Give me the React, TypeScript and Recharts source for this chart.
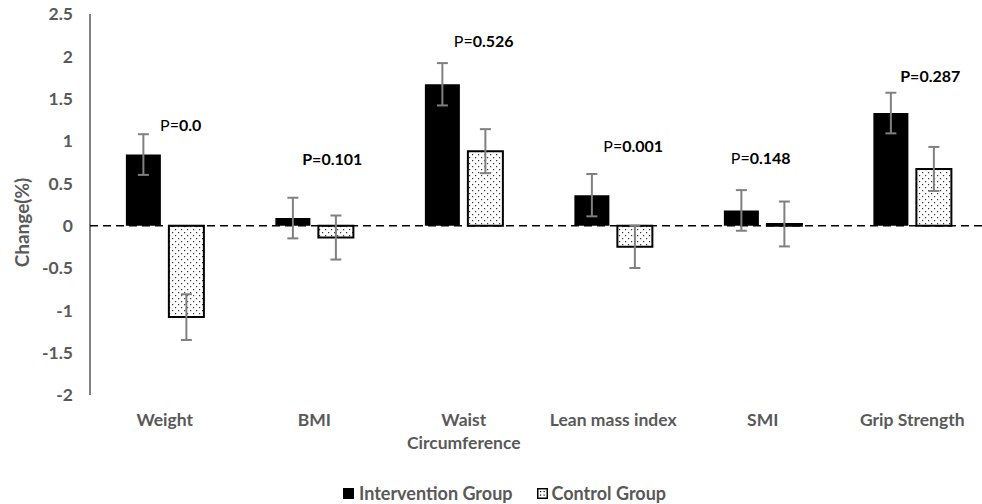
import React from 'react';
import { ComposedChart, Bar, ErrorBar, Scatter, XAxis, YAxis, ReferenceLine, Legend, Label, Text } from 'recharts';

const categories = ['Weight', 'BMI', 'Waist Circumference', 'Lean mass index', 'SMI', 'Grip Strength'];
const intervention = [0.84, 0.09, 1.67, 0.36, 0.18, 1.33];
const interventionErr = [0.24, 0.24, 0.25, 0.25, 0.24, 0.24];
const control = [-1.08, -0.14, 0.88, -0.25, 0.02, 0.67];
const controlErr = [0.27, 0.26, 0.26, 0.25, 0.265, 0.26];
const pValues = ['0.0', '0.101', '0.526', '0.001', '0.148', '0.287'];
const pLabelY = [1.2, 0.8, 2.19, 0.95, 0.81, 1.78];
const pPrefixBold = [false, true, false, false, false, true];
const yTicks = [-2, -1.5, -1, -0.5, 0, 0.5, 1, 1.5, 2, 2.5];

const data = categories.map((name, i) => ({
    name,
    intervention: intervention[i],
    iErr: interventionErr[i],
    control: control[i],
    cErr: controlErr[i],
    pY: pLabelY[i],
    p: pValues[i],
    pBold: pPrefixBold[i],
}));

const FONT = 'Lato, "Open Sans", sans-serif';
const GREY = '#595959';
// horizontal nudge of the p labels from the category centre
const pShift = [16, 18, 20, 20, -2, 18];

const CategoryTick = (props: any) => {
    const { x, y, payload } = props;
    return (
        <Text
            x={x}
            y={y + 19}
            width={140}
            textAnchor="middle"
            verticalAnchor="start"
            lineHeight={23}
            fill={GREY}
            style={{ fontFamily: FONT, fontSize: 17.5, fontWeight: 700 }}
        >
            {payload.value}
        </Text>
    );
};

const PLabel = (props: any) => {
    const { cx, cy, payload, index } = props;
    if (cx == null || cy == null) return null;
    return (
        <text
            x={cx + pShift[index]}
            y={cy}
            textAnchor="middle"
            dominantBaseline="central"
            fill="#000"
            style={{ fontFamily: FONT, fontSize: 16 }}
        >
            <tspan fontWeight={payload.pBold ? 700 : 400}>P=</tspan>
            <tspan fontWeight={700}>{payload.p}</tspan>
        </text>
    );
};

const YTitle = (props: any) => {
    const { viewBox } = props;
    const cx = viewBox.x + 21;
    const cy = viewBox.y + viewBox.height / 2 + 18;
    return (
        <text
            x={cx}
            y={cy}
            transform={`rotate(-90 ${cx} ${cy})`}
            textAnchor="middle"
            dominantBaseline="central"
            fill={GREY}
            style={{ fontFamily: FONT, fontSize: 19, fontWeight: 700 }}
        >
            Change(%)
        </text>
    );
};

const LegendContent = () => (
    <div
        style={{
            display: 'flex',
            justifyContent: 'center',
            alignItems: 'center',
            height: 20,
            paddingLeft: 22,
            fontFamily: FONT,
            fontSize: 18,
            fontWeight: 700,
            color: GREY,
        }}
    >
        <svg width={11} height={11} style={{ marginRight: 5 }}>
            <rect x={0} y={0} width={11} height={11} fill="#000" />
        </svg>
        <span style={{ marginRight: 24 }}>Intervention Group</span>
        <svg width={11} height={11} style={{ marginRight: 4 }}>
            <rect x={0.75} y={0.75} width={9.5} height={9.5} fill="#fff" stroke="#000" strokeWidth={1.5} />
            <rect x={3} y={3} width={1.2} height={1.2} fill="#000" />
            <rect x={6.5} y={6.5} width={1.2} height={1.2} fill="#000" />
            <rect x={6.5} y={3} width={1.2} height={1.2} fill="#000" />
            <rect x={3} y={6.5} width={1.2} height={1.2} fill="#000" />
        </svg>
        <span>Control Group</span>
    </div>
);

export default function App() {
    return (
        <div style={{ width: 982, height: 504, overflow: 'hidden', background: '#fff' }}>
            <style>{'body{margin:0}'}</style>
            <ComposedChart
                width={990}
                height={504}
                data={data}
                margin={{ top: 14, right: 3, left: 0, bottom: 1 }}
                barCategoryGap="24%"
                barGap={8}
            >
                <defs>
                    <pattern id="dots" width={6} height={6} patternUnits="userSpaceOnUse">
                        <rect width={6} height={6} fill="#fff" />
                        <rect x={1} y={1} width={1.2} height={1.2} fill="#333" />
                        <rect x={4} y={4} width={1.2} height={1.2} fill="#333" />
                    </pattern>
                </defs>
                <XAxis
                    dataKey="name"
                    axisLine={false}
                    tickLine={false}
                    tickSize={0}
                    tickMargin={0}
                    height={88}
                    interval={0}
                    tick={<CategoryTick />}
                />
                <YAxis
                    domain={[-2, 2.5]}
                    ticks={yTicks}
                    interval={0}
                    width={90}
                    axisLine={{ stroke: '#000', strokeWidth: 1 }}
                    tickLine={false}
                    tickSize={0}
                    tickMargin={17}
                    tick={{ fill: GREY, fontFamily: FONT, fontSize: 17.5, fontWeight: 700 }}
                >
                    <Label content={<YTitle />} />
                </YAxis>
                <ReferenceLine y={0} stroke="#000" strokeWidth={1.5} strokeDasharray="8 5" />
                <Bar dataKey="intervention" fill="#000" isAnimationActive={false}>
                    <ErrorBar dataKey="iErr" width={5.5} stroke="#808080" strokeWidth={2} />
                </Bar>
                <Bar dataKey="control" fill="url(#dots)" stroke="#000" strokeWidth={2} isAnimationActive={false}>
                    <ErrorBar dataKey="cErr" width={5.5} stroke="#808080" strokeWidth={2} />
                </Bar>
                <Scatter dataKey="pY" shape={<PLabel />} isAnimationActive={false} legendType="none" />
                <Legend verticalAlign="bottom" content={<LegendContent />} />
            </ComposedChart>
        </div>
    );
}
